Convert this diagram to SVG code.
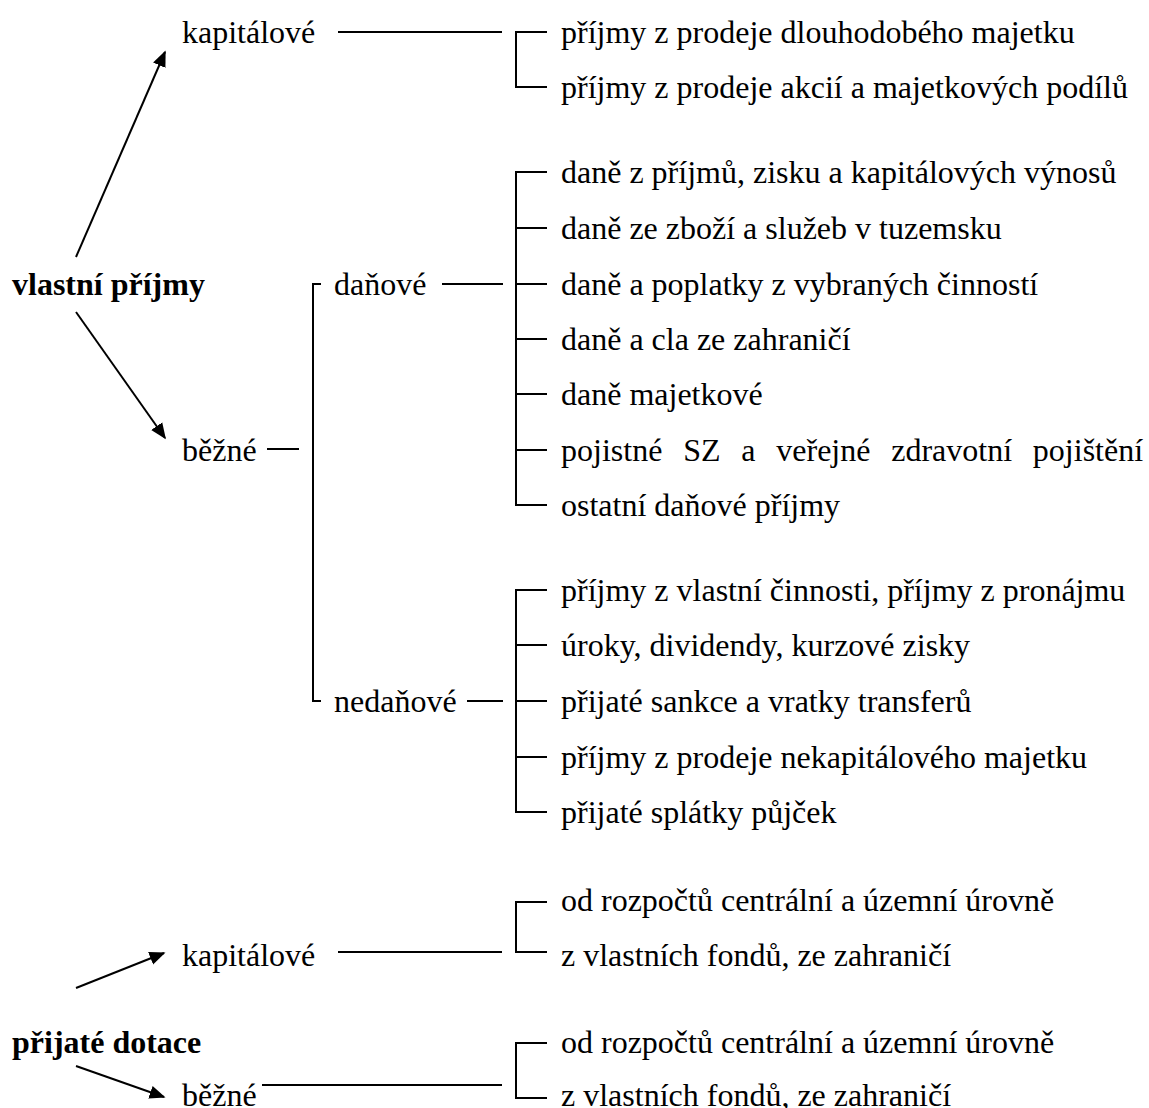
<svg xmlns="http://www.w3.org/2000/svg" width="1149" height="1108" viewBox="0 0 1149 1108">
<defs>
<style>
text{font-family:"Liberation Serif","Times New Roman",serif;font-size:32px;fill:#000}
.b{font-weight:bold}
.ln{stroke:#000;stroke-width:2;fill:none}
</style>
<marker id="ah" viewBox="0 0 10 10" refX="9" refY="5" markerWidth="8" markerHeight="8" markerUnits="strokeWidth" orient="auto">
<path d="M0,0.8 L10,5 L0,9.2 z" fill="#000" stroke="none"/>
</marker>
</defs>
<rect width="1149" height="1108" fill="#fff"/>

<g id="vlastni"><text class="b" x="12" y="295">vlastní příjmy</text></g>
<g id="kap1"><text x="182" y="43">kapitálové</text></g>
<g id="bezne1"><text x="182" y="461">běžné</text></g>
<g id="danove"><text x="334" y="295">daňové</text></g>
<g id="nedanove"><text x="334" y="712">nedaňové</text></g>

<g id="kap1-items">
<text x="561" y="43">příjmy z prodeje dlouhodobého majetku</text>
<text x="561" y="98">příjmy z prodeje akcií a majetkových podílů</text>
</g>
<g id="dan-items">
<text x="561" y="183">daně z příjmů, zisku a kapitálových výnosů</text>
<text x="561" y="239">daně ze zboží a služeb v tuzemsku</text>
<text x="561" y="295">daně a poplatky z vybraných činností</text>
<text x="561" y="350">daně a cla ze zahraničí</text>
<text x="561" y="405">daně majetkové</text>
<text x="561" y="461" word-spacing="12.8">pojistné SZ a veřejné zdravotní pojištění</text>
<text x="561" y="516">ostatní daňové příjmy</text>
</g>
<g id="nedan-items">
<text x="561" y="601">příjmy z vlastní činnosti, příjmy z pronájmu</text>
<text x="561" y="656">úroky, dividendy, kurzové zisky</text>
<text x="561" y="712">přijaté sankce a vratky transferů</text>
<text x="561" y="768">příjmy z prodeje nekapitálového majetku</text>
<text x="561" y="823">přijaté splátky půjček</text>
</g>

<g id="dotace"><text class="b" x="12" y="1053">přijaté dotace</text></g>
<g id="kap2"><text x="182" y="966">kapitálové</text></g>
<g id="bezne2"><text x="182" y="1106">běžné</text></g>
<g id="kap2-items">
<text x="561" y="911">od rozpočtů centrální a územní úrovně</text>
<text x="561" y="966">z vlastních fondů, ze zahraničí</text>
</g>
<g id="bezne2-items">
<text x="561" y="1053">od rozpočtů centrální a územní úrovně</text>
<text x="561" y="1106">z vlastních fondů, ze zahraničí</text>
</g>

<g id="connectors" class="ln">
<line x1="76" y1="257" x2="165" y2="52" marker-end="url(#ah)"/>
<line x1="76" y1="312" x2="165" y2="438" marker-end="url(#ah)"/>
<line x1="76" y1="988" x2="164" y2="953" marker-end="url(#ah)"/>
<line x1="76" y1="1066" x2="164" y2="1097" marker-end="url(#ah)"/>

<line x1="338" y1="32" x2="502" y2="32"/>
<path d="M547,32 H516 V87 H547"/>

<line x1="267" y1="449" x2="299" y2="449"/>
<path d="M321,284 H313 V701 H321"/>

<line x1="442" y1="284" x2="503" y2="284"/>
<path d="M547,172 H516 V505 H547"/>
<path d="M516,228 H547 M516,284 H547 M516,339 H547 M516,394 H547 M516,450 H547"/>

<line x1="467" y1="701" x2="503" y2="701"/>
<path d="M547,590 H516 V812 H547"/>
<path d="M516,645 H547 M516,701 H547 M516,757 H547"/>

<line x1="338" y1="952" x2="502" y2="952"/>
<path d="M547,902 H516 V952 H547"/>

<line x1="262" y1="1085" x2="502" y2="1085"/>
<path d="M547,1043 H516 V1098 H547"/>
</g>
</svg>
